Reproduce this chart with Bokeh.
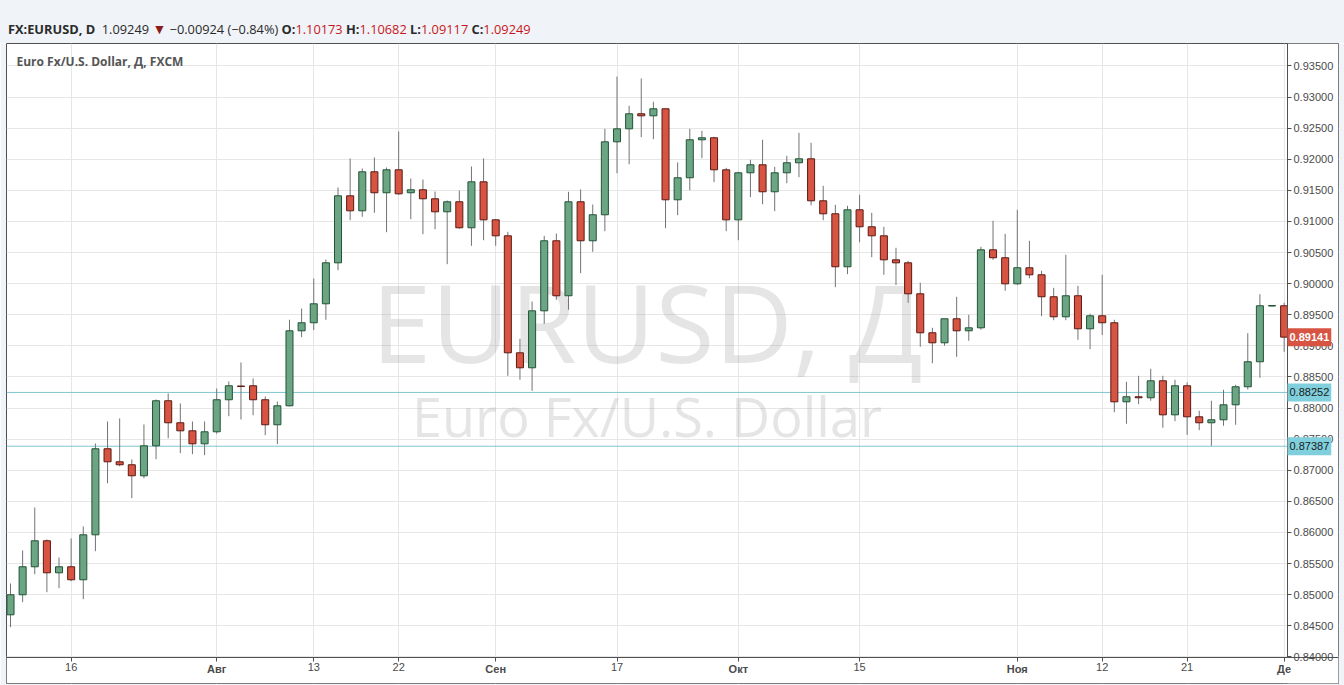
from bokeh.plotting import figure
from bokeh.models import Range1d, FixedTicker, Label, Div, NumeralTickFormatter, LinearAxis
from bokeh.layouts import column
from bokeh.embed import file_html
from bokeh.resources import INLINE
from bokeh.core.properties import value

# ---- data: EUR/USD daily candles (index = trading day, Jul 9 .. Dec 3) ----
opens = [0.84677, 0.84999, 0.85449, 0.85867, 0.85352, 0.85449, 0.85240, 0.85963, 0.87346, 0.87137,
         0.87089, 0.86912, 0.87394, 0.88118, 0.87764, 0.87635, 0.87426, 0.87619, 0.88134, 0.88355,
         0.88359, 0.88134, 0.87732, 0.88037, 0.89243, 0.89372, 0.89677, 0.90336, 0.91413, 0.91172,
         0.91799, 0.91462, 0.91831, 0.91462, 0.91510, 0.91365, 0.91156, 0.91317, 0.90899, 0.91638,
         0.91027, 0.90770, 0.88889, 0.88648, 0.89564, 0.90690, 0.89806, 0.91317, 0.90690, 0.91108,
         0.92281, 0.92490, 0.92732, 0.92699, 0.92812, 0.91349, 0.91703, 0.92314, 0.92346, 0.91831,
         0.91027, 0.91783, 0.91912, 0.91478, 0.91783, 0.91944, 0.92008, 0.91333, 0.91124, 0.90272,
         0.91188, 0.90915, 0.90770, 0.90384, 0.90336, 0.89838, 0.89211, 0.89050, 0.89436, 0.89243,
         0.89291, 0.90545, 0.90417, 0.89998, 0.90256, 0.90143, 0.89790, 0.89468, 0.89806, 0.89275,
         0.89484, 0.89372, 0.88101, 0.88182, 0.88166, 0.88439, 0.87892, 0.88359, 0.87860, 0.87764,
         0.87812, 0.88053, 0.88343, 0.88745, 0.89641, 0.89645]
highs = [0.85180, 0.85711, 0.86402, 0.85888, 0.85598, 0.85904, 0.86097, 0.87431, 0.87785, 0.87833,
         0.87174, 0.87737, 0.88138, 0.88235, 0.88074, 0.87785, 0.87785, 0.88315, 0.88428, 0.88733,
         0.88476, 0.88187, 0.88106, 0.89420, 0.89601, 0.90084, 0.90389, 0.91547, 0.92013, 0.91852,
         0.92029, 0.91868, 0.92447, 0.91691, 0.91675, 0.91482, 0.91338, 0.91498, 0.91884, 0.92013,
         0.91032, 0.90834, 0.89114, 0.89714, 0.90770, 0.90807, 0.91478, 0.91515, 0.91273, 0.92490,
         0.93331, 0.92860, 0.93299, 0.92925, 0.92812, 0.91949, 0.92490, 0.92458, 0.92362, 0.91863,
         0.91799, 0.91992, 0.92314, 0.91880, 0.92056, 0.92426, 0.92265, 0.91574, 0.91269, 0.91252,
         0.91429, 0.91140, 0.90915, 0.90577, 0.90368, 0.90015, 0.89291, 0.89436, 0.89790, 0.89500,
         0.90593, 0.91011, 0.90802, 0.91188, 0.90690, 0.90208, 0.89934, 0.90465, 0.89966, 0.89516,
         0.90143, 0.89420, 0.88423, 0.88519, 0.88632, 0.88519, 0.88455, 0.88412, 0.87957, 0.88118,
         0.88294, 0.88375, 0.89204, 0.89831, 0.89657, 0.89693]
lows = [0.84478, 0.84880, 0.85330, 0.85040, 0.85105, 0.85217, 0.84928, 0.85700, 0.86793, 0.87066,
        0.86552, 0.86873, 0.87179, 0.87516, 0.87275, 0.87259, 0.87243, 0.87587, 0.87870, 0.87817,
        0.87886, 0.87564, 0.87420, 0.88026, 0.89140, 0.89253, 0.89420, 0.90217, 0.91021, 0.91076,
        0.91140, 0.90828, 0.91429, 0.91037, 0.90796, 0.90876, 0.90314, 0.90883, 0.90609, 0.90699,
        0.90609, 0.88519, 0.88455, 0.88278, 0.89355, 0.89741, 0.89581, 0.90169, 0.90513, 0.90844,
        0.91777, 0.91921, 0.92355, 0.92323, 0.90892, 0.91101, 0.91503, 0.92018, 0.91632, 0.90844,
        0.90699, 0.91391, 0.91278, 0.91166, 0.91616, 0.91712, 0.91262, 0.91021, 0.89944, 0.90153,
        0.90667, 0.90426, 0.90143, 0.89979, 0.89693, 0.88986, 0.88722, 0.89002, 0.88825, 0.89082,
        0.89259, 0.90384, 0.89886, 0.89982, 0.90089, 0.89478, 0.89413, 0.89413, 0.89098, 0.88947,
        0.89175, 0.87934, 0.87748, 0.88063, 0.88118, 0.87683, 0.87790, 0.87571, 0.87645, 0.87394,
        0.87716, 0.87732, 0.88299, 0.88487, 0.89633, 0.88905]
closes = [0.84999, 0.85449, 0.85867, 0.85352, 0.85449, 0.85240, 0.85963, 0.87346, 0.87137, 0.87089,
          0.86912, 0.87394, 0.88118, 0.87764, 0.87635, 0.87426, 0.87619, 0.88134, 0.88359, 0.88347,
          0.88134, 0.87732, 0.88037, 0.89243, 0.89372, 0.89677, 0.90336, 0.91413, 0.91172, 0.91799,
          0.91462, 0.91831, 0.91445, 0.91510, 0.91365, 0.91156, 0.91317, 0.90899, 0.91638, 0.91027,
          0.90770, 0.88889, 0.88648, 0.89564, 0.90690, 0.89806, 0.91317, 0.90690, 0.91108, 0.92281,
          0.92490, 0.92732, 0.92699, 0.92812, 0.91349, 0.91703, 0.92314, 0.92346, 0.91831, 0.91027,
          0.91783, 0.91912, 0.91478, 0.91783, 0.91944, 0.92008, 0.91333, 0.91124, 0.90272, 0.91188,
          0.90915, 0.90770, 0.90384, 0.90336, 0.89838, 0.89211, 0.89050, 0.89436, 0.89243, 0.89291,
          0.90545, 0.90417, 0.89998, 0.90256, 0.90143, 0.89790, 0.89468, 0.89806, 0.89275, 0.89484,
          0.89372, 0.88101, 0.88182, 0.88166, 0.88439, 0.87892, 0.88359, 0.87860, 0.87764, 0.87812,
          0.88053, 0.88343, 0.88745, 0.89645, 0.89649, 0.89141]

x_ticks = [5, 17, 25, 32, 40, 50, 60, 70, 83, 90, 97, 105]
x_labels = ["16", "Авг", "13", "22", "Сен", "17", "Окт", "15", "Ноя", "12", "21", "Де"]
month_labels = ["Авг", "Сен", "Окт", "Ноя", "Де"]
y_ticks = [0.840, 0.845, 0.850, 0.855, 0.860, 0.865, 0.870, 0.875, 0.880, 0.885,
           0.890, 0.895, 0.900, 0.905, 0.910, 0.915, 0.920, 0.925, 0.930, 0.935]
h_levels = [0.88252, 0.87387]
last_price = 0.89141

hdr_symbol = "FX:EURUSD, D"
hdr_last = "1.09249"
hdr_change = "−0.00924 (−0.84%)"
hdr_ohlc_names = ["O:", "H:", "L:", "C:"]
hdr_ohlc_vals = ["1.10173", "1.10682", "1.09117", "1.09249"]

# ---- layout constants (whole chart incl. price/time strips is the frame) ----
FRAME_W, FRAME_H = 1332, 640
X0, X1 = -0.3298, 109.48          # frame x-extent (bar index units)
X_AX = 105.276                    # price-axis line position
Y0, Y1 = 0.835723, 0.938617       # frame y-extent (price units)
Y_AX = 0.839904                   # time-axis line position
PY = FRAME_H / (Y1 - Y0)

UP_FILL, UP_LINE = "#6ba583", "#225437"
DN_FILL, DN_LINE = "#d75442", "#5b1a13"
WICK = "#737375"
AXIS_C = "#505050"
LBL_C = "#4a4a4a"
PAGE_BG = "#f0f3f7"

p = figure(frame_width=FRAME_W, frame_height=FRAME_H,
           x_range=Range1d(X0, X1), y_range=Range1d(Y0, Y1),
           y_axis_location="right", output_backend="svg", toolbar_location=None,
           min_border_left=6, min_border_top=0, min_border_right=6, min_border_bottom=2,
           background_fill_color="white", border_fill_color=PAGE_BG,
           outline_line_color=AXIS_C)

# grids
p.xgrid.ticker = FixedTicker(ticks=x_ticks)
p.ygrid.ticker = FixedTicker(ticks=y_ticks)
p.xgrid.grid_line_color = "#e6e6e6"
p.ygrid.grid_line_color = "#e6e6e6"

# x axis (day numbers) drawn at the time-axis line
day_ticks = [t for t, l in zip(x_ticks, x_labels) if l not in month_labels]
mon_ticks = [t for t, l in zip(x_ticks, x_labels) if l in month_labels]
lab_map = dict(zip(x_ticks, x_labels))

xa = p.xaxis[0]
xa.fixed_location = Y_AX
xa.ticker = FixedTicker(ticks=day_ticks, minor_ticks=[])
xa.major_label_overrides = {t: lab_map[t] for t in day_ticks}
month_axis = LinearAxis(fixed_location=Y_AX, ticker=FixedTicker(ticks=mon_ticks, minor_ticks=[]),
                        major_label_overrides={t: lab_map[t] for t in mon_ticks})
p.add_layout(month_axis, "below")
for ax, bold in ((xa, False), (month_axis, True)):
    ax.major_tick_out = 4
    ax.major_tick_in = 0
    ax.minor_tick_line_color = None
    ax.major_label_standoff = 2
    ax.major_label_text_font = "Liberation Sans"
    ax.major_label_text_font_size = "11px"
    ax.major_label_text_font_style = "bold" if bold else "normal"
    ax.major_label_text_color = LBL_C
    ax.major_tick_line_color = AXIS_C
month_axis.axis_line_color = None
xa.axis_line_color = AXIS_C

# y axis (right) drawn at the price-axis line
ya = p.yaxis[0]
ya.fixed_location = X_AX
ya.bounds = (Y_AX, Y1)
ya.ticker = FixedTicker(ticks=y_ticks, minor_ticks=[])
ya.formatter = NumeralTickFormatter(format="0.00000")
ya.major_tick_out = 4
ya.major_tick_in = 0
ya.minor_tick_line_color = None
ya.major_label_standoff = 2
ya.major_label_text_font = "Liberation Sans"
ya.major_label_text_font_size = "11px"
ya.major_label_text_color = LBL_C
ya.axis_line_color = AXIS_C
ya.major_tick_line_color = AXIS_C

# watermark
xc = (X0 + X_AX) / 2
p.text(x=[xc], y=[Y_AX + 0.548 * (Y1 - Y_AX)], text=["EURUSD, Д"], text_align="center",
       text_baseline="alphabetic", text_font=value("Open Sans"), text_font_size="108px",
       text_color="#999999", text_alpha=0.25)
p.text(x=[xc], y=[Y_AX + 0.394 * (Y1 - Y_AX)], text=["Euro Fx/U.S. Dollar"], text_align="center",
       text_baseline="alphabetic", text_font=value("Open Sans"), text_font_size="54px",
       text_color="#999999", text_alpha=0.25)

# horizontal levels
for lv in h_levels:
    p.segment(x0=[X0], x1=[X_AX], y0=[lv], y1=[lv], line_color="#7ec6d3", line_width=1)

# candles
xs = list(range(len(opens)))
up = [i for i in xs if closes[i] >= opens[i]]
dn = [i for i in xs if closes[i] < opens[i]]
p.segment(x0=xs, y0=highs, x1=xs, y1=lows, line_color=WICK, line_width=1)
p.vbar(x=up, width=0.58, top=[closes[i] for i in up], bottom=[opens[i] for i in up],
       fill_color=UP_FILL, line_color=UP_LINE, line_width=1)
p.vbar(x=dn, width=0.58, top=[opens[i] for i in dn], bottom=[closes[i] for i in dn],
       fill_color=DN_FILL, line_color=DN_LINE, line_width=1)

# white price-axis and time-axis strips
p.quad(left=[X_AX], right=[X1], bottom=[Y0], top=[Y1], fill_color="white", line_color=None)
p.quad(left=[X0], right=[X1], bottom=[Y0], top=[Y_AX], fill_color="white", line_color=None)

# symbol label top-left
p.add_layout(Label(x=10, x_units="screen", y=Y1 - 18 / PY, text="Euro Fx/U.S. Dollar, Д, FXCM",
                   text_baseline="middle", text_font="Open Sans", text_font_size="12px",
                   text_font_style="bold", text_color="#555555"))

# price labels on the axis
for lv in h_levels:
    p.add_layout(Label(x=X_AX, y=lv, text=f"{lv:.5f}",
                       text_baseline="middle", text_align="left", text_font="Liberation Sans",
                       text_font_size="11px", text_color="#1a1a1a",
                       background_fill_color="#80cfdc", padding=(2, 5)))
p.add_layout(Label(x=X_AX, y=last_price, text=f"{last_price:.5f}",
                   text_baseline="middle", text_align="left", text_font="Liberation Sans",
                   text_font_size="11px", text_font_style="bold", text_color="white",
                   background_fill_color=DN_FILL, padding=(2, 5)))

# header
red = "#c8171c"
ohlc_html = " ".join(f'<b>{n}</b><span style="color:{red}">{v}</span>'
                     for n, v in zip(hdr_ohlc_names, hdr_ohlc_vals))
hdr_html = ('<div style="width:1344px;height:43px;box-sizing:border-box;padding:21px 0 0 8px;line-height:16px;'
            "font-family:'Open Sans';font-size:12.8px;color:#2a2a2a;background:" + PAGE_BG +
            ';white-space:nowrap;">'
            f'<b>{hdr_symbol}</b>&nbsp; {hdr_last} '
            f'<span style="color:#8e1b1b;font-size:14px">▼</span> {hdr_change} '
            f'{ohlc_html}</div>')
header = Div(text=hdr_html, width=1344, height=43, margin=(0, 0, 0, 0))

layout = column(header, p, spacing=0)
open("out.html", "w").write(file_html(layout, INLINE))
